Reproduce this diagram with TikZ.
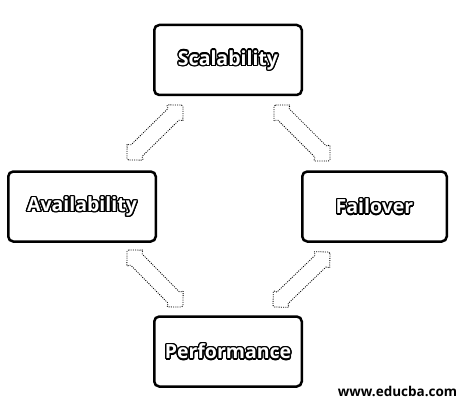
\documentclass[tikz,border=0pt]{standalone}
\usepackage{fontspec}
\setmainfont{Open Sans}
\usetikzlibrary{calc}
\newbox\halobox
\newcommand\halotext[1]{%
  \setbox\halobox\hbox{#1}%
  \foreach \ang in {0,22.5,...,337.5}{%
    \pgfmathsetlengthmacro\hdx{1.4pt*cos(\ang)}%
    \pgfmathsetlengthmacro\hdy{1.4pt*sin(\ang)}%
    \rlap{\kern\hdx\raisebox{\hdy}{\color{black}\copy\halobox}}}%
  {\color{white}\copy\halobox}}
\newcommand\dblarrow[3]{%
  \coordinate (#1a) at ($(#2)!12pt!(#3)$);
  \coordinate (#1b) at ($(#3)!12pt!(#2)$);
  \draw[arrowline] (#2) -- ($(#2)!17pt!45:(#3)$) -- ($(#1a)!8pt!90:(#3)$)
    -- ($(#1b)!8pt!-90:(#2)$) -- ($(#3)!17pt!-45:(#2)$) -- (#3)
    -- ($(#3)!17pt!45:(#2)$) -- ($(#1b)!8pt!90:(#2)$)
    -- ($(#1a)!8pt!-90:(#3)$) -- ($(#2)!17pt!-45:(#3)$) -- cycle;}
\tikzset{
  box/.style={draw, line width=2.5pt, rounded corners=5pt, minimum width=147.5pt,
    minimum height=70pt, inner sep=0pt, font=\bfseries\fontsize{19.5}{23}\selectfont},
  arrowline/.style={draw, line width=0.8pt, dash pattern=on 1pt off 1.2pt, rounded corners=1.5pt},
  credit/.style={font=\bfseries\fontsize{13.5}{16}\selectfont, inner sep=0pt}
}
\begin{document}
\begin{tikzpicture}[x=1pt,y=-1pt]
\useasboundingbox (0,0) rectangle (473,409);
\node[box] (sc) at (228,60) {\halotext{Scalability}};
\node[box] (av) at (82,206.5) {\halotext{Availability}};
\node[box, minimum width=144.5pt] (fa) at (374.5,206.5) {\halotext{Failover}};
\node[box] (pe) at (228,351.5) {\halotext{Performance}};
\coordinate (tl1) at (127,160); \coordinate (tl2) at (183,105);
\coordinate (tr1) at (274,105); \coordinate (tr2) at (330,161);
\coordinate (bl1) at (127,250); \coordinate (bl2) at (183,307);
\coordinate (br1) at (330,252); \coordinate (br2) at (273,307);
\dblarrow{atl}{tl1}{tl2}
\dblarrow{atr}{tr1}{tr2}
\dblarrow{abl}{bl1}{bl2}
\dblarrow{abr}{br1}{br2}
\node[credit] (web) at (397.5,391) {www.educba.com};
\end{tikzpicture}
\end{document}
